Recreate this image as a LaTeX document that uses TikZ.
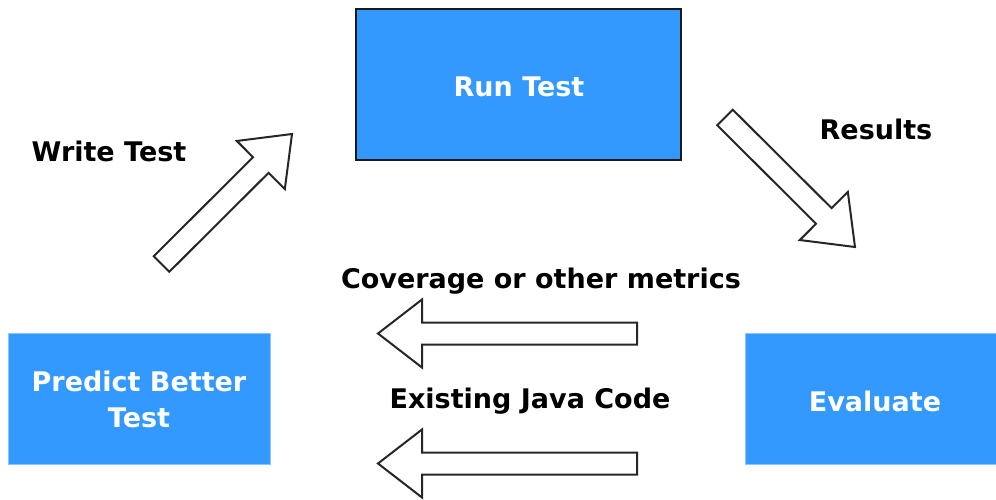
\documentclass[tikz,border=0pt]{standalone}
\usepackage{fontspec}
\setmainfont{DejaVu Sans}
\usetikzlibrary{calc}
\definecolor{boxblue}{HTML}{3399FF}
\definecolor{edgeblue}{HTML}{8CC4FF}
\tikzset{
  stepbox/.style={fill=boxblue, text=white, font=\fontsize{27}{36}\selectfont\bfseries, align=center, inner sep=0pt},
  caption/.style={text=black, font=\fontsize{27}{36}\selectfont\bfseries, inner sep=0pt},
  fatarrowline/.style={draw=black!85, line width=2pt, fill=white, line join=miter},
}
% hollow block arrow from #1 (tail centre) to #2 (tip)
\newcommand\fatarrow[2]{%
  \coordinate (fa-h) at ($(#2)!44pt!(#1)$);
  \draw[fatarrowline] ($(#1)!11pt!90:(#2)$) -- ($(fa-h)!11pt!90:(#2)$)
    -- ($(fa-h)!34pt!90:(#2)$) -- (#2) -- ($(fa-h)!34pt!-90:(#2)$)
    -- ($(fa-h)!11pt!-90:(#2)$) -- ($(#1)!11pt!-90:(#2)$) -- cycle;
}
\begin{document}
\begin{tikzpicture}[x=1pt, y=-1pt]
\useasboundingbox (0,0) rectangle (996,500);

% process boxes
\path[stepbox, draw=black!90, line width=2pt] (356,9) rectangle (681,160);
\node[stepbox, fill=none] (run) at (519,87) {Run Test};
\path[stepbox, draw=edgeblue, line width=0.6pt] (8,333) rectangle (270,464);
\node[stepbox, fill=none] (predict) at (139,399) {Predict Better\\Test};
\path[stepbox, draw=edgeblue, line width=0.6pt] (745,333) rectangle (998,464);
\node[stepbox, fill=none] (evaluate) at (875,401) {Evaluate};

% captions
\node[caption] (writelbl) at (109,151) {Write Test};
\node[caption] (resultslbl) at (876,129) {Results};
\node[caption] (coveragelbl) at (541,281) {Coverage or other metrics};
\node[caption] (codelbl) at (530,401) {Existing Java Code};

% arrow end points
\coordinate (write-tail) at (161.5,264);
\coordinate (write-tip) at (292,134);
\coordinate (results-tail) at (725,117.5);
\coordinate (results-tip) at (855,247);
\coordinate (coverage-tail) at (637,333.5);
\coordinate (coverage-tip) at (378,333.5);
\coordinate (code-tail) at (637,463.5);
\coordinate (code-tip) at (378,463.5);

\fatarrow{write-tail}{write-tip}
\fatarrow{results-tail}{results-tip}
\fatarrow{coverage-tail}{coverage-tip}
\fatarrow{code-tail}{code-tip}
\end{tikzpicture}
\end{document}
